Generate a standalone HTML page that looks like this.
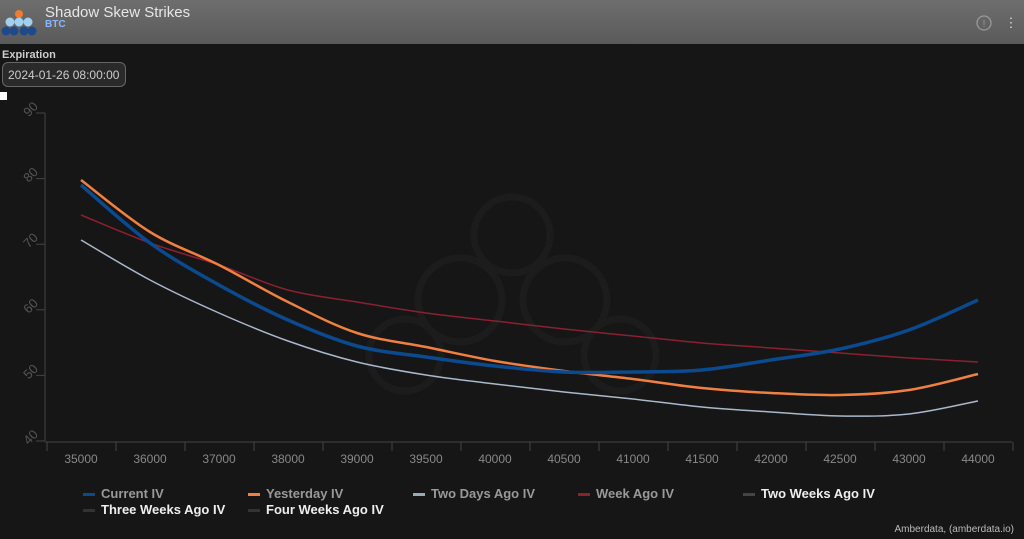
<!DOCTYPE html>
<html><head><meta charset="utf-8"><style>
body{margin:0;width:1024px;height:539px;background:#161616;overflow:hidden;font-family:"Liberation Sans",sans-serif;position:relative}
.hdr{position:absolute;left:0;top:0;width:1024px;height:44px;background:linear-gradient(#6e6e6e,#5a5a5a)}
.t1{position:absolute;left:45px;top:4px;font-size:15px;color:#e6e6e6}
.t2{position:absolute;left:45px;top:19px;font-size:10px;color:#8fb4ff;font-weight:bold}
.exp{position:absolute;left:2px;top:49px;font-size:11px;color:#ccc;font-weight:bold}
.sel{position:absolute;left:2px;top:62px;width:124px;height:25px;border:1px solid #666;border-radius:6px;background:#2a2a2a;color:#ccc;font-size:12px;line-height:24px;text-indent:5px;box-sizing:border-box}
.leg{position:absolute;font-size:13px;font-weight:bold;color:#999}
.leg i{display:inline-block;width:12px;height:3px;vertical-align:middle;margin-right:6px}
</style></head><body>
<div class="hdr">
<svg width="40" height="44" style="position:absolute;left:0;top:0"><circle cx="19" cy="14" r="4" fill="#f07d2e"/><circle cx="10" cy="22" r="4.5" fill="#9fd0f0"/><circle cx="19" cy="22" r="4.5" fill="#9fd0f0"/><circle cx="28" cy="22" r="4.5" fill="#9fd0f0"/><circle cx="6" cy="31" r="4.5" fill="#1e4a8a"/><circle cx="14" cy="31" r="4.5" fill="#1e4a8a"/><circle cx="24" cy="31" r="4.5" fill="#1e4a8a"/><circle cx="32" cy="31" r="4.5" fill="#1e4a8a"/></svg>
<div class="t1">Shadow Skew Strikes</div><div class="t2">BTC</div>
<svg width="40" height="20" style="position:absolute;left:974px;top:14px"><circle cx="10" cy="9" r="7" fill="none" stroke="#999" stroke-width="1.3"/><text x="10" y="13" font-size="10" fill="#999" text-anchor="middle">!</text><text x="37" y="13" font-size="13" fill="#ddd" text-anchor="middle">⋮</text></svg>
</div>
<div class="exp">Expiration</div>
<div class="sel">2024-01-26 08:00:00</div>
<div style="position:absolute;left:0;top:92px;width:7px;height:8px;background:#fff"></div>
<svg id="c" width="1024" height="539" style="position:absolute;left:0;top:0"></svg>
<div class="leg" style="left:83px;top:486px"><i style="background:#0b4a8e"></i>Current IV</div>
<div class="leg" style="left:248px;top:486px"><i style="background:#f08040"></i>Yesterday IV</div>
<div class="leg" style="left:413px;top:486px"><i style="background:#9ab"></i>Two Days Ago IV</div>
<div class="leg" style="left:578px;top:486px"><i style="background:#8a2030"></i>Week Ago IV</div>
<div class="leg" style="left:743px;top:486px;color:#eee"><i style="background:#444"></i>Two Weeks Ago IV</div>
<div class="leg" style="left:83px;top:502px;color:#eee"><i style="background:#333"></i>Three Weeks Ago IV</div>
<div class="leg" style="left:248px;top:502px;color:#eee"><i style="background:#333"></i>Four Weeks Ago IV</div>
<div style="position:absolute;right:10px;top:524px;font-size:10px;color:#bbb">Amberdata, (amberdata.io)</div>
<script>
var s=document.getElementById('c'),h='';
h+='<g fill="none" stroke="#1c1c1c" stroke-width="7"><circle cx="512" cy="235" r="38"/><circle cx="460" cy="300" r="42"/><circle cx="565" cy="300" r="42"/><circle cx="405" cy="355" r="36"/><circle cx="620" cy="355" r="36"/></g>';
h+='<line x1="45" y1="113" x2="45" y2="441" stroke="#444"/><line x1="45" y1="442" x2="1012" y2="442" stroke="#444"/>';
var yl=[90,80,70,60,50,40];
yl.forEach(function(v,i){var y=113+i*65.6;h+='<line x1="36" x2="45" y1="'+y+'" y2="'+y+'" stroke="#444"/><text x="32" y="'+(y+5)+'" fill="#555" font-size="13" text-anchor="middle" transform="rotate(-45 26 '+y+')">'+v+'</text>';});
var xl=['35000','36000','37000','38000','39000','39500','40000','40500','41000','41500','42000','42500','43000','44000'];
for(var k=0;k<=14;k++){var x=47+69*k;h+='<line x1="'+x+'" x2="'+x+'" y1="442" y2="451" stroke="#444"/>';}
xl.forEach(function(t,i){h+='<text x="'+(81+69*i)+'" y="463" fill="#888" font-size="12" text-anchor="middle">'+t+'</text>';});
function path(ys){var p=ys.map(function(y,i){return [81+69*i,y]});var d='M'+p[0];for(var i=0;i<p.length-1;i++){var a=p[i-1]||p[i],b=p[i],c=p[i+1],e=p[i+2]||c;d+='C'+(b[0]+(c[0]-a[0])/6)+','+(b[1]+(c[1]-a[1])/6)+' '+(c[0]-(e[0]-b[0])/6)+','+(c[1]-(e[1]-b[1])/6)+' '+c[0]+','+c[1];}return d;}
var S=[
[[240,280,313,341,362,375,384,392,399,407,412,416,414,401],'#a9b8cc',1.5],
[[215,243,265,290,302,313,321,329,336,343,348,353,358,362],'#8a2030',1.5],
[[180,232,265,302,333,347,361,371,379,388,393,395,390,374],'#f08040',2.5],
[[185,243,285,320,346,357,366,372,372,370,360,349,330,300],'#0b4a8e',3.5]];
S.forEach(function(q){h+='<path d="'+path(q[0])+'" fill="none" stroke="'+q[1]+'" stroke-width="'+q[2]+'"/>';});
s.innerHTML=h;
</script>
</body></html>
